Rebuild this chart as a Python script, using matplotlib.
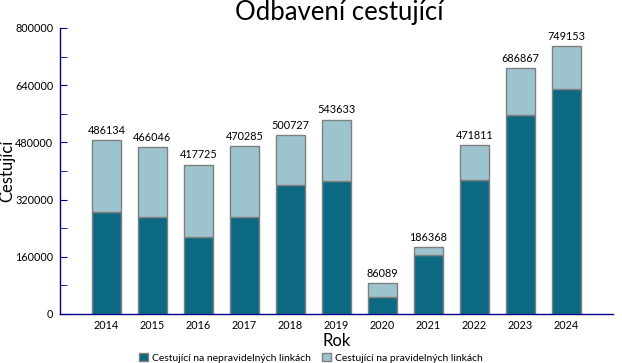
import matplotlib
matplotlib.use("Agg")
import matplotlib.pyplot as plt
import numpy as np

years = ["2014", "2015", "2016", "2017", "2018", "2019", "2020", "2021", "2022", "2023", "2024"]
totals = [486134, 466046, 417725, 470285, 500727, 543633, 86089, 186368, 471811, 686867, 749153]
irregular = [284000, 270000, 214500, 270000, 360000, 373000, 48500, 164000, 376000, 556000, 628500]
regular = [t - i for t, i in zip(totals, irregular)]

dark = "#0b6a82"
light = "#9dc4cd"
edge = "#7f7f7f"
navy = "#00008b"

plt.rcParams['font.family'] = ['Lato', 'DejaVu Sans']

fig = plt.figure(figsize=(6.22, 3.63), dpi=100)
ax = fig.add_axes([0.097, 0.135, 0.888, 0.788])
x = np.arange(len(years))
w = 0.64
ax.bar(x, irregular, w, color=dark, edgecolor=edge, linewidth=1.0,
       label="Cestující na nepravidelných linkách")
ax.bar(x, regular, w, bottom=irregular, color=light, edgecolor=edge, linewidth=1.0,
       label="Cestující na pravidelných linkách")
for xi, t in zip(x, totals):
    ax.text(xi, t + 12000, str(t), ha="center", va="bottom", fontsize=7.8)

ax.set_xlim(-1, 11)
ax.set_ylim(0, 800000)
ax.set_xticks(x)
ax.set_xticklabels(years, fontsize=7.8)
ax.tick_params(axis="x", length=0, pad=4)
ax.set_yticks(np.arange(0, 800001, 160000))
ax.set_yticklabels([str(v) for v in range(0, 800001, 160000)], fontsize=7.8)
ax.set_yticks(np.arange(0, 800001, 80000), minor=True)
ax.tick_params(axis="y", which="both", direction="in", length=5, color=navy, pad=5)
for s in ["top", "right"]:
    ax.spines[s].set_visible(False)
for s in ["left", "bottom"]:
    ax.spines[s].set_color(navy)
    ax.spines[s].set_linewidth(1.0)

ax.set_xlabel("Rok", fontsize=12, labelpad=2)
ax.set_ylabel("Cestující", fontsize=12)
ax.yaxis.set_label_coords(-0.082, 0.5)
fig.text(0.545, 0.965, "Odbavení cestující", fontsize=18.5, ha="center", va="center")

fig.legend(loc="lower center", bbox_to_anchor=(0.5, -0.025), ncol=2, frameon=False,
           fontsize=7.5, handlelength=0.9, handleheight=0.9, columnspacing=1.0, handletextpad=0.4)

fig.savefig("out.png", dpi=100)
